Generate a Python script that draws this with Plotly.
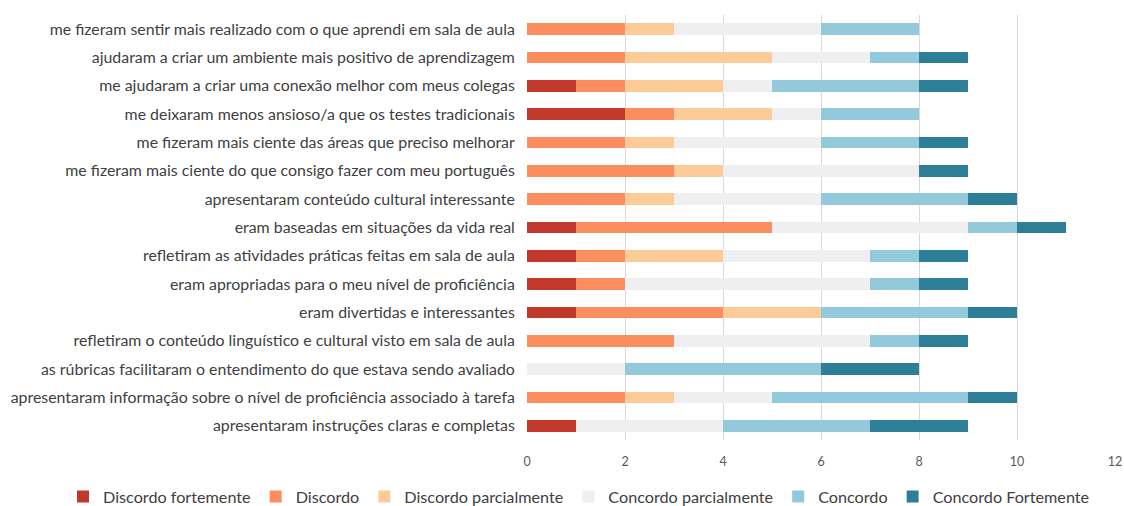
import plotly.graph_objects as go

categories = [
    "me fizeram sentir mais realizado com o que aprendi em sala de aula",
    "ajudaram a criar um ambiente mais positivo de aprendizagem",
    "me ajudaram a criar uma conexão melhor com meus colegas",
    "me deixaram menos ansioso/a que os testes tradicionais",
    "me fizeram mais ciente das áreas que preciso melhorar",
    "me fizeram mais ciente do que consigo fazer com meu português",
    "apresentaram conteúdo cultural interessante",
    "eram baseadas em situações da vida real",
    "refletiram as atividades práticas feitas em sala de aula",
    "eram apropriadas para o meu nível de proficiência",
    "eram divertidas e interessantes",
    "refletiram o conteúdo linguístico e cultural visto em sala de aula",
    "as rúbricas facilitaram o entendimento do que estava sendo avaliado",
    "apresentaram informação sobre o nível de proficiência associado à tarefa",
    "apresentaram instruções claras e completas",
]

series_names = [
    "Discordo fortemente",
    "Discordo",
    "Discordo parcialmente",
    "Concordo parcialmente",
    "Concordo",
    "Concordo Fortemente",
]

discordo_fortemente   = [0, 0, 1, 2, 0, 0, 0, 1, 1, 1, 1, 0, 0, 0, 1]
discordo              = [2, 2, 1, 1, 2, 3, 2, 4, 1, 1, 3, 3, 0, 2, 0]
discordo_parcialmente = [1, 3, 2, 2, 1, 1, 1, 0, 2, 0, 2, 0, 0, 1, 0]
concordo_parcialmente = [3, 2, 1, 1, 3, 4, 3, 4, 3, 5, 0, 4, 2, 2, 3]
concordo              = [2, 1, 3, 2, 2, 0, 3, 1, 1, 1, 3, 1, 4, 4, 3]
concordo_fortemente   = [0, 1, 1, 0, 1, 1, 1, 1, 1, 1, 1, 1, 2, 1, 2]

series_values = [discordo_fortemente, discordo, discordo_parcialmente,
                 concordo_parcialmente, concordo, concordo_fortemente]

colors = ["#C0392B", "#FC8D5E", "#FDCB98", "#EFEEF1", "#92CADC", "#2D7F97"]

x_ticks = [0, 2, 4, 6, 8, 10, 12]

font_family = "Lato, 'Open Sans', sans-serif"

W, H = 1124, 506
L, R, T, B = 527, 9, 15, 66
plot_w = W - L - R
plot_h = H - T - B

fig = go.Figure()
for name, vals, col in zip(series_names, series_values, colors):
    fig.add_trace(go.Bar(
        y=categories, x=vals, name=name, orientation="h",
        marker=dict(color=col, line=dict(width=0)),
    ))

fig.update_layout(
    barmode="stack",
    bargap=0.58,
    width=W, height=H,
    margin=dict(l=L, r=R, t=T, b=B, autoexpand=False),
    paper_bgcolor="white", plot_bgcolor="white",
    font=dict(family=font_family, color="#404040"),
    legend=dict(
        orientation="h", x=(63 - L) / plot_w, xanchor="left", xref="paper",
        y=-57 / plot_h, yanchor="middle",
        font=dict(size=16.2, color="#404040"),
        itemwidth=30, traceorder="normal",
    ),
    showlegend=True,
)

fig.update_xaxes(
    range=[0, 12], tickvals=x_ticks, ticktext=[str(t) for t in x_ticks],
    showgrid=True, gridcolor="#D9D9D9", gridwidth=1,
    zeroline=False, showline=False, automargin=False,
    ticks="outside", ticklen=10, tickcolor="rgba(0,0,0,0)",
    tickfont=dict(size=12.5, color="#595959"),
)
fig.update_yaxes(
    categoryorder="array", categoryarray=categories, autorange="reversed",
    showgrid=False, zeroline=False, showline=False, automargin=False,
    ticks="outside", ticklen=8, tickcolor="rgba(0,0,0,0)",
    tickfont=dict(size=15.9, color="#404040"),
)

fig.write_html(
    "out.html",
    config={"displayModeBar": False},
    post_script="document.body.style.margin='0';document.body.style.overflow='hidden';",
)
